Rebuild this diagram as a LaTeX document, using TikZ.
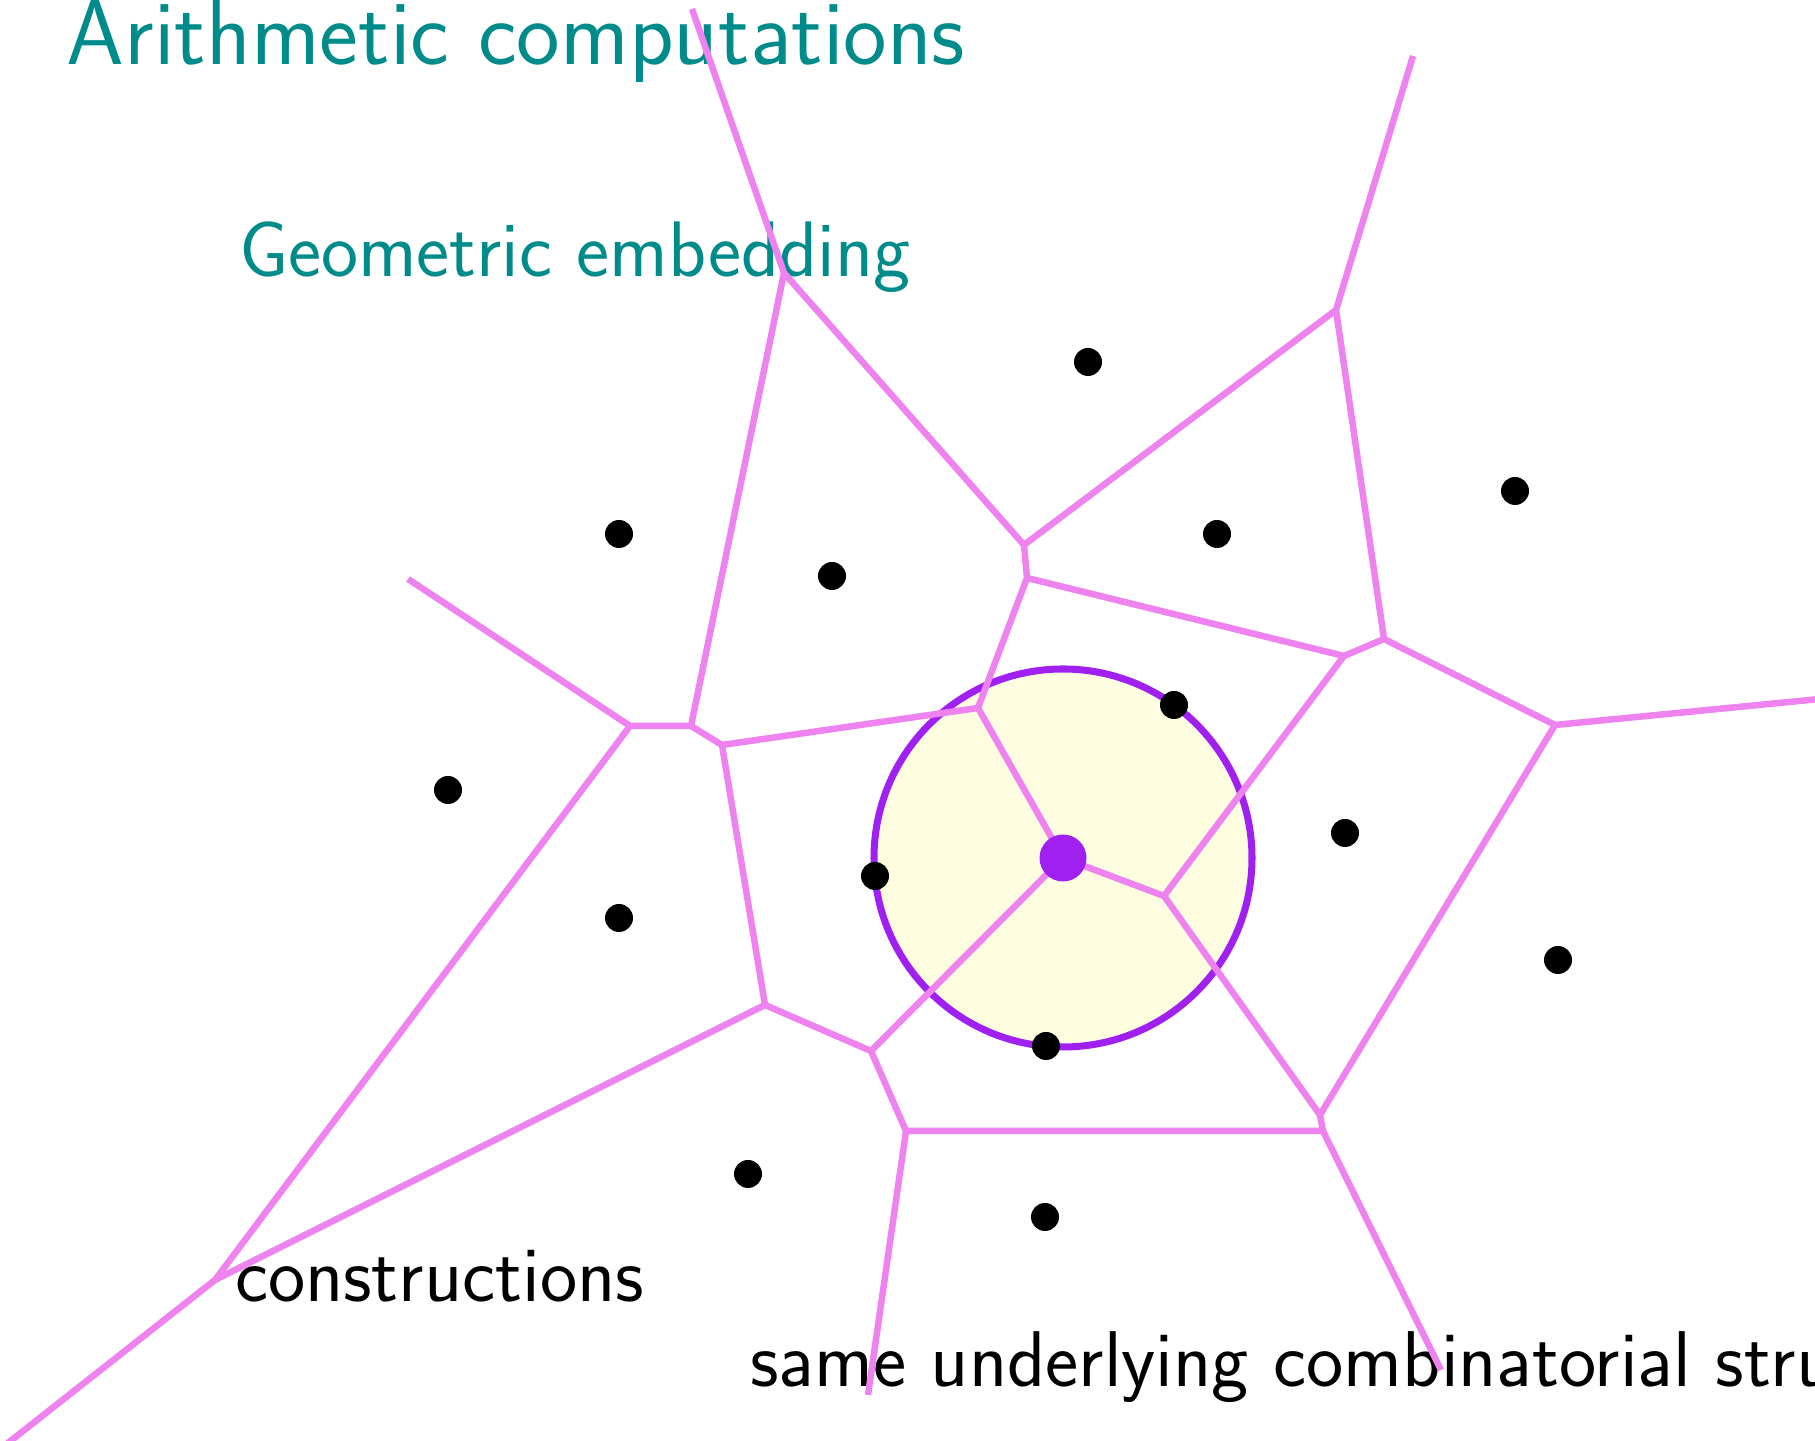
\documentclass[tikz,border=0pt]{standalone}
\usepackage{tikz}

\definecolor{vorline}{RGB}{238,130,238}
\definecolor{vorring}{RGB}{160,32,240}
\definecolor{vorfill}{RGB}{255,253,224}
\definecolor{vortitle}{RGB}{0,139,139}

\begin{document}
\begin{tikzpicture}[
  x=1cm,
  y=1cm,
  every node/.style={inner sep=0pt, outer sep=0pt},
  bigtitle/.style={font=\sffamily\fontsize{26.3}{30}\selectfont, text=vortitle, anchor=base west},
  subtitle/.style={font=\sffamily\fontsize{22.4}{26}\selectfont, text=vortitle, anchor=base west},
  note/.style={font=\sffamily\fontsize{22.5}{26}\selectfont, text=black, anchor=base west},
  edge/.style={draw=vorline, line width=1.85pt, line join=round},
  ring/.style={draw=vorring, fill=vorfill, line width=2pt},
  site/.style={circle, fill=black, minimum size=0.28cm},
  seed/.style={circle, fill=vorring, minimum size=0.47cm}
]

  \path[use as bounding box] (0,0) rectangle (18.15,14.41);

  % Highlighted disc
  \coordinate (ctr) at (10.63,5.83);
  \draw[ring] (ctr) circle (1.89);

  % Labels
  \node[bigtitle] (arith) at (0.67,13.76) {Arithmetic computations};
  \node[subtitle] (geom) at (2.39,11.64) {Geometric embedding};
  \node[note] (constr) at (2.35,1.39) {constructions};
  \node[note] (same) at (7.50,0.54) {same underlying combinatorial structure};

  % Voronoi vertices
  \coordinate (top) at (6.92,14.32);
  \coordinate (v1) at (7.84,11.68);
  \coordinate (v2) at (6.91,7.15);
  \coordinate (v3) at (6.30,7.15);
  \coordinate (left) at (4.08,8.62);
  \coordinate (v4) at (7.22,6.96);
  \coordinate (v5) at (9.78,7.33);
  \coordinate (v6) at (10.27,8.63);
  \coordinate (v7) at (10.24,8.96);
  \coordinate (v8) at (13.36,11.31);
  \coordinate (topright) at (14.13,13.85);
  \coordinate (v9) at (13.84,8.02);
  \coordinate (v10) at (13.44,7.85);
  \coordinate (v11) at (15.55,7.16);
  \coordinate (right) at (18.40,7.44);
  \coordinate (v12) at (11.64,5.45);
  \coordinate (v13) at (13.20,3.26);
  \coordinate (v14) at (13.23,3.10);
  \coordinate (v15) at (9.06,3.10);
  \coordinate (v16) at (8.71,3.90);
  \coordinate (v17) at (7.65,4.36);
  \coordinate (v18) at (2.15,1.61);
  \coordinate (botleft) at (-0.20,-0.24);
  \coordinate (bot) at (8.68,0.46);
  \coordinate (botright) at (14.41,0.71);

  % Voronoi edges
  \draw[edge] (top) -- (v1) -- (v7) -- (v8) -- (topright);
  \draw[edge] (v1) -- (v2) -- (v3) -- (left);
  \draw[edge] (v3) -- (v18) -- (botleft);
  \draw[edge] (v2) -- (v4) -- (v5) -- (v6) -- (v7);
  \draw[edge] (v8) -- (v9) -- (v11) -- (right);
  \draw[edge] (v6) -- (v10) -- (v9);
  \draw[edge] (v10) -- (v12) -- (v13) -- (v11);
  \draw[edge] (v13) -- (v14) -- (v15) -- (v16) -- (v17) -- (v4);
  \draw[edge] (v17) -- (v18);
  \draw[edge] (v14) -- (botright);
  \draw[edge] (v15) -- (bot);
  \draw[edge] (v5) -- (ctr) -- (v12);
  \draw[edge] (ctr) -- (v16);

  % Sites
  \foreach \x/\y [count=\i] in {10.88/10.79, 15.15/9.50, 6.19/9.07, 12.17/9.07,
      8.32/8.65, 11.74/7.36, 4.48/6.51, 13.45/6.08, 8.75/5.65, 6.19/5.23,
      15.58/4.81, 10.46/3.95, 7.48/2.67, 10.45/2.24}
    \node[site] (s\i) at (\x,\y) {};

  \node[seed] (query) at (ctr) {};

\end{tikzpicture}
\end{document}
